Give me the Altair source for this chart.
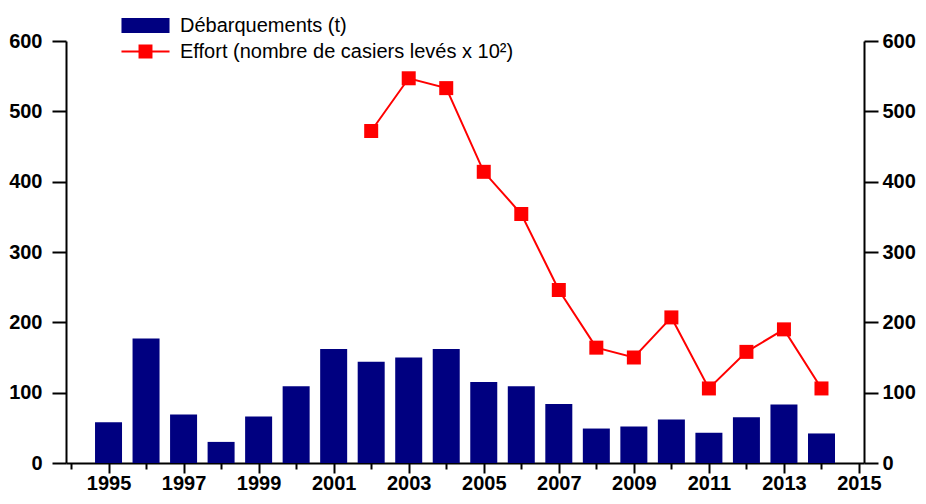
import altair as alt
import pandas as pd

# ---- data ----
years = list(range(1995, 2015))
landings = [58, 177, 69, 30, 66, 109, 162, 144, 150, 162, 115, 109, 84, 49, 52, 62, 43, 65, 83, 42]
effort_years = list(range(2002, 2015))
effort = [472, 547, 533, 414, 354, 246, 164, 150, 207, 106, 158, 190, 106]
tick_years = list(range(1994, 2016))
y_ticks = [0, 100, 200, 300, 400, 500, 600]

S1 = "Débarquements (t)"
S2 = "Effort (nombre de casiers levés x 10²)"

bars_df = pd.DataFrame({"year": years, "value": landings, "series": S1})
eff_df = pd.DataFrame({"year": effort_years, "value": effort, "series": S2})

NAVY = "#000080"
RED = "#ff0000"
FONT = "Liberation Sans"

x_scale = alt.Scale(domain=[1994, 2015], nice=False, zero=False)
y_scale = alt.Scale(domain=[0, 600], nice=False)

common_axis = dict(
    grid=False, title=None, labelFontSize=20, labelFontWeight="bold", labelFont=FONT,
    labelColor="black", domainColor="black", tickColor="black", domainWidth=2, tickWidth=2,
)

x_axis = alt.Axis(
    values=tick_years,
    labelExpr="datum.value % 2 == 1 ? '' + datum.value : ''",
    tickSize=alt.ExprRef(expr="datum.value % 2 == 1 ? 10 : 6"),
    labelPadding=0, labelOverlap=False, labelFlush=False,
    **common_axis,
)
y_left = alt.Axis(orient="left", values=y_ticks, tickSize=14, labelPadding=10, **common_axis)
y_right = alt.Axis(orient="right", values=y_ticks, tickSize=14, labelPadding=4, **common_axis)

P1 = "M-1.55,-0.48H1.55V0.48H-1.55Z"
P2 = "M-1.55,-0.065H1.55V0.065H-1.55Z M-0.45,-0.45H0.45V0.45H-0.45Z"

legend = alt.Legend(
    title=None, orient="none", legendX=64, legendY=-31, padding=0,
    symbolSize=961, labelFontSize=20, labelFont=FONT, labelColor="black",
    labelOffset=19, labelLimit=0, symbolStrokeWidth=0, rowPadding=0,
    symbolType=alt.ExprRef(expr=f"datum.value == '{S1}' ? '{P1}' : '{P2}'"),
)

color_scale = alt.Scale(domain=[S1, S2], range=[NAVY, RED])

bars = alt.Chart(bars_df).mark_bar(size=27).encode(
    x=alt.X("year:Q", scale=x_scale, axis=x_axis),
    y=alt.Y("value:Q", scale=y_scale, axis=y_left),
    color=alt.Color("series:N", scale=color_scale, legend=legend),
)

line = alt.Chart(eff_df).mark_line(color=RED, strokeWidth=2).encode(
    x=alt.X("year:Q", scale=x_scale, axis=x_axis),
    y=alt.Y("value:Q", scale=y_scale, axis=y_right),
)

points = alt.Chart(eff_df).mark_point(shape="square", filled=True, size=196, color=RED, opacity=1).encode(
    x=alt.X("year:Q", scale=x_scale, axis=x_axis),
    y=alt.Y("value:Q", scale=y_scale, axis=None),
)

chart = alt.layer(bars, line, points).resolve_scale(y="independent").properties(
    width=798, height=422,
    autosize=alt.AutoSizeParams(type="none"),
    padding={"left": 58, "top": 33, "right": 54, "bottom": 33},
).configure_view(stroke=None)

chart.save("out.html", embed_options={"renderer": "svg", "actions": False})
